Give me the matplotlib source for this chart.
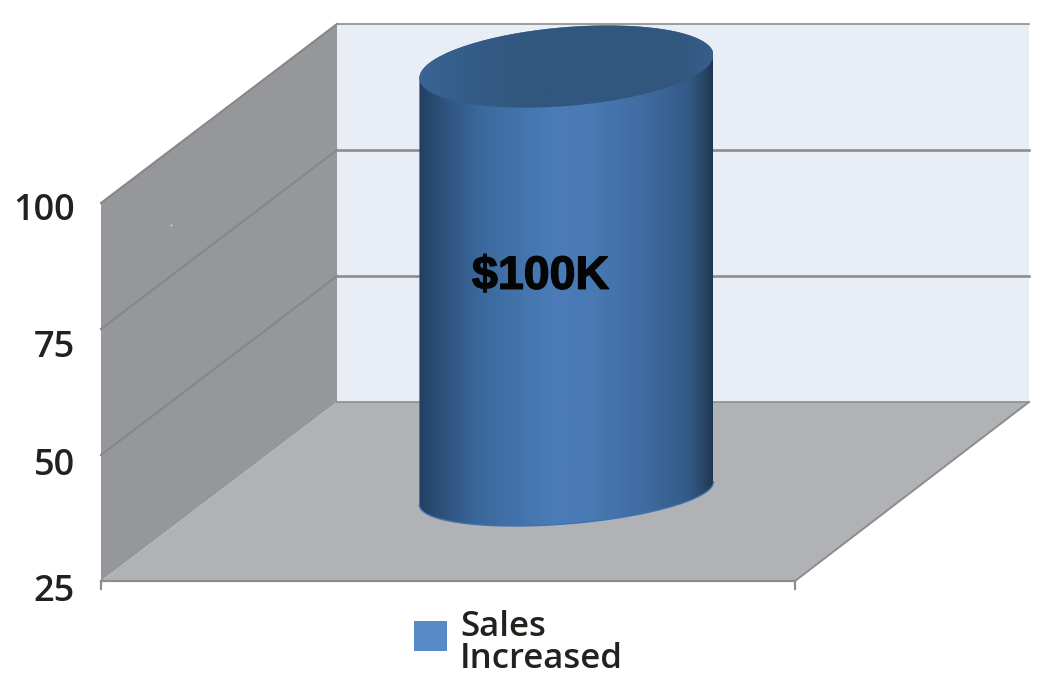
import matplotlib
matplotlib.use('Agg')
import matplotlib.pyplot as plt
import matplotlib.patheffects as pe
import numpy as np
from matplotlib.colors import LinearSegmentedColormap
from matplotlib.patches import Patch, PathPatch, Polygon
from matplotlib.path import Path

categories = ['Sales\nIncreased']
bar_values = [109.7]  # the cylinder rises past the top of the axis in the picture
bar_labels = ['$100K']
axis_values = [25, 50, 75, 100]
axis_labels = ['25', '50', '75', '100']
label_nudge_px = [11, 11, 19, 8]

# oblique projection, in pixels of the 1042x676 picture
PX_PER_UNIT = 5.04
FRONT_LEFT_PX = 101
FRONT_BASE_PX = 581
WALL_WIDTH = 694
BACK_WIDTH = 692
DEPTH_DX = 236
DEPTH_DY = 179
BAR_DEPTH = 0.489
BAR_CENTER = 350
BAR_HALF = 147
BAR_SLOPE = 23 / 294

fig = plt.figure(figsize=(10.42, 6.76), dpi=100)
ax = fig.add_axes([0, 0, 1, 1])
base = axis_values[0]
xlim = (-FRONT_LEFT_PX, 1042 - FRONT_LEFT_PX)
ylim = (base - (676 - FRONT_BASE_PX) / PX_PER_UNIT, base + FRONT_BASE_PX / PX_PER_UNIT)


def project(x, value, depth=0.0):
    return x + depth * DEPTH_DX, value + depth * DEPTH_DY / PX_PER_UNIT


def ellipse_arc(value, b_px, t):
    cx, cy = project(BAR_CENTER, value, BAR_DEPTH)
    xs = cx + BAR_HALF * np.cos(t)
    ys = cy + (BAR_SLOPE * BAR_HALF * np.cos(t) + b_px * np.sin(t)) / PX_PER_UNIT
    return np.column_stack([xs, ys])


top_val, low_val = axis_values[-1], axis_values[0]
wall_color = '#95979b'
back_color = '#e9edf6'
floor_color = '#b0b2b6'
line_color = '#8c8e8c'

# left wall, back wall, floor
ax.add_patch(Polygon([project(0, low_val), project(0, top_val), project(0, top_val, 1), project(0, low_val, 1)],
                     facecolor=wall_color, edgecolor='none', zorder=1))
ax.add_patch(Polygon([project(0, low_val, 1), project(0, top_val, 1), project(BACK_WIDTH, top_val, 1), project(BACK_WIDTH, low_val, 1)],
                     facecolor=back_color, edgecolor='none', zorder=1))
ax.add_patch(Polygon([project(0, low_val), project(WALL_WIDTH, low_val), project(BACK_WIDTH, low_val, 1), project(0, low_val, 1)],
                     facecolor=floor_color, edgecolor='none', zorder=1))

# gridlines on both walls
for v in axis_values:
    x0, y0 = project(0, v)
    x1, y1 = project(0, v, 1)
    x2, y2 = project(BACK_WIDTH, v, 1)
    lw = 1.9 if v in (50, 75) else 1.2
    if v != low_val:
        ax.plot([x0, x1], [y0, y1], color='#868886', lw=1.5, zorder=2)
    ax.plot([x1, x2], [y1, y2], color=line_color, lw=lw, zorder=2)

# floor edges and the two category ticks
x0, y0 = project(WALL_WIDTH, low_val)
x1, y1 = project(BACK_WIDTH, low_val, 1)
ax.plot([x0, x1], [y0, y1], color=line_color, lw=1.4, zorder=2)
ax.plot([0, WALL_WIDTH], [low_val, low_val], color=line_color, lw=1.6, zorder=2)
for x in (0, WALL_WIDTH):
    ax.plot([x, x], [low_val, low_val - 8 / PX_PER_UNIT], color=line_color, lw=1.6, zorder=2)

# small speck on the left wall
ax.plot([70], [base + (581 - 225) / PX_PER_UNIT], marker='s', ms=1.2, color='#d5d6d8', mew=0, zorder=2)

# cylinder body with a horizontal shading
body_cmap = LinearSegmentedColormap.from_list('body', [
    (0.0, '#213f62'), (0.05, '#2a4c73'), (0.2, '#3a689c'), (0.45, '#4a7cb7'), (0.58, '#4a7ab4'),
    (0.78, '#3e6a9f'), (0.92, '#335a87'), (0.98, '#26435f'), (1.0, '#1d3552')])
cap_cmap = LinearSegmentedColormap.from_list('cap', [
    (0.0, '#3a6595'), (0.12, '#355e8b'), (0.35, '#32577f'), (0.88, '#32577f'), (1.0, '#365f8b')])

t_low = np.linspace(np.pi, 2 * np.pi, 120)
t_up = np.linspace(0, np.pi, 120)
t_all = np.linspace(0, 2 * np.pi, 240)
for i, v in enumerate(bar_values):
    lower = ellipse_arc(low_val, 30.4, t_low)
    upper = ellipse_arc(v, 39.5, t_up)
    verts = np.vstack([lower, upper, lower[:1]])
    body = Path(verts)
    cap = Path(np.vstack([ellipse_arc(v, 39.5, t_all), ellipse_arc(v, 39.5, t_all[:1])]))
    extent = (verts[:, 0].min(), verts[:, 0].max(), verts[:, 1].min() - 1, verts[:, 1].max() + 1)
    gradient = np.linspace(0, 1, 256).reshape(1, -1)

    im = ax.imshow(gradient, cmap=body_cmap, extent=extent, aspect='auto', zorder=3)
    im.set_clip_path(PathPatch(body, transform=ax.transData))
    ax.plot(lower[:, 0], lower[:, 1], color='#3d73b0', lw=1.0, zorder=3)
    im2 = ax.imshow(gradient, cmap=cap_cmap, extent=extent, aspect='auto', zorder=4)
    im2.set_clip_path(PathPatch(cap, transform=ax.transData))

    lx, ly = project(BAR_CENTER - 26, 68, BAR_DEPTH)
    ax.text(lx, ly, bar_labels[i], ha='center', va='center', fontsize=33.5, fontweight='bold',
            family='Liberation Sans', color='#050505', zorder=5,
            path_effects=[pe.withStroke(linewidth=1.0, foreground='#050505')])

# value axis labels
for v, lab, nudge in zip(axis_values, axis_labels, label_nudge_px):
    ax.text(-26, v - nudge / PX_PER_UNIT, lab, ha='right', va='center', fontsize=26, family='Open Sans',
            fontweight='semibold', color='#20221e', zorder=5)

handles = [Patch(facecolor='#5889c9', edgecolor='none', label=c) for c in categories]
leg = ax.legend(handles=handles, frameon=False, loc='center left', bbox_to_anchor=(414 / 1042, 1 - 643 / 676),
                handlelength=0.96, handleheight=0.98, handletextpad=0.37, borderpad=0, borderaxespad=0,
                prop={'family': 'Open Sans', 'weight': 'semibold', 'size': 25})
leg.legend_handles[0].set_y(3.5)
legend_text = leg.get_texts()[0]
legend_text.set_color('#20221e')
legend_text.set_linespacing(0.95)

ax.set_xlim(xlim)
ax.set_ylim(ylim)
ax.set_axis_off()
fig.savefig('out.png', dpi=100)
